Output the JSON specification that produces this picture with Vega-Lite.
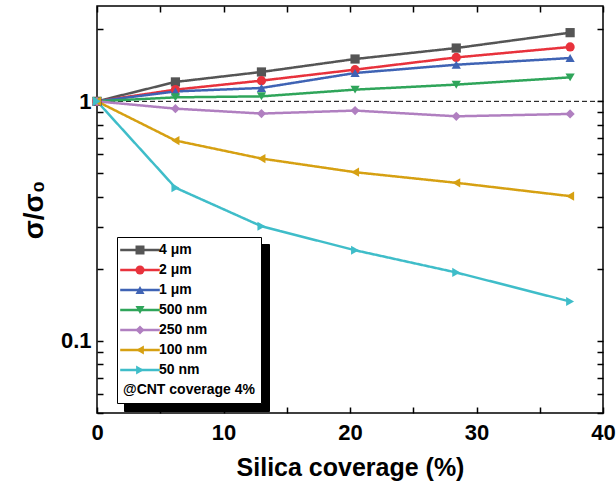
{
  "$schema": "https://vega.github.io/schema/vega-lite/v6.json",
  "width": 506,
  "height": 407,
  "autosize": {"type": "none"},
  "padding": {"left": 97, "top": 6, "right": 13, "bottom": 80},
  "background": "white",
  "config": {"view": {"stroke": "black", "strokeWidth": 1.5}, "font": "Liberation Sans"},
  "data": {
    "values": [
      {"s": "4 μm", "x": 0, "y": 1}, {"s": "4 μm", "x": 6.2, "y": 1.205}, {"s": "4 μm", "x": 13.0, "y": 1.326}, {"s": "4 μm", "x": 20.4, "y": 1.502}, {"s": "4 μm", "x": 28.4, "y": 1.669}, {"s": "4 μm", "x": 37.4, "y": 1.935},
      {"s": "2 μm", "x": 0, "y": 1}, {"s": "2 μm", "x": 6.2, "y": 1.119}, {"s": "2 μm", "x": 13.0, "y": 1.22}, {"s": "2 μm", "x": 20.4, "y": 1.356}, {"s": "2 μm", "x": 28.4, "y": 1.525}, {"s": "2 μm", "x": 37.4, "y": 1.686},
      {"s": "1 μm", "x": 0, "y": 1}, {"s": "1 μm", "x": 6.2, "y": 1.10}, {"s": "1 μm", "x": 13.0, "y": 1.137}, {"s": "1 μm", "x": 20.4, "y": 1.313}, {"s": "1 μm", "x": 28.4, "y": 1.422}, {"s": "1 μm", "x": 37.4, "y": 1.516},
      {"s": "500 nm", "x": 0, "y": 1}, {"s": "500 nm", "x": 6.2, "y": 1.039}, {"s": "500 nm", "x": 13.0, "y": 1.049}, {"s": "500 nm", "x": 20.4, "y": 1.119}, {"s": "500 nm", "x": 28.4, "y": 1.174}, {"s": "500 nm", "x": 37.4, "y": 1.259},
      {"s": "250 nm", "x": 0, "y": 1}, {"s": "250 nm", "x": 6.2, "y": 0.932}, {"s": "250 nm", "x": 13.0, "y": 0.889}, {"s": "250 nm", "x": 20.4, "y": 0.915}, {"s": "250 nm", "x": 28.4, "y": 0.866}, {"s": "250 nm", "x": 37.4, "y": 0.886},
      {"s": "100 nm", "x": 0, "y": 1}, {"s": "100 nm", "x": 6.2, "y": 0.686}, {"s": "100 nm", "x": 13.0, "y": 0.577}, {"s": "100 nm", "x": 20.4, "y": 0.506}, {"s": "100 nm", "x": 28.4, "y": 0.457}, {"s": "100 nm", "x": 37.4, "y": 0.402},
      {"s": "50 nm", "x": 0, "y": 1}, {"s": "50 nm", "x": 6.2, "y": 0.436}, {"s": "50 nm", "x": 13.0, "y": 0.301}, {"s": "50 nm", "x": 20.4, "y": 0.239}, {"s": "50 nm", "x": 28.4, "y": 0.193}, {"s": "50 nm", "x": 37.4, "y": 0.146}
    ]
  },
  "layer": [
    {
      "data": {"values": [{"v": 1}]},
      "mark": {"type": "rule", "strokeDash": [5, 3], "color": "black", "strokeWidth": 1},
      "encoding": {
        "y": {"field": "v", "type": "quantitative", "scale": {"type": "log", "domain": [0.05, 2.5]}, "axis": null}
      }
    },
    {
      "mark": {"type": "line", "strokeWidth": 2.5},
      "encoding": {
        "x": {
          "field": "x", "type": "quantitative",
          "scale": {"domain": [0, 40], "nice": false, "zero": false},
          "axis": {
            "orient": "bottom",
            "values": [0, 5, 10, 15, 20, 25, 30, 35, 40],
            "labelExpr": "datum.value % 10 === 0 ? datum.label : ''",
            "tickSize": -6,
            "tickColor": "black", "tickWidth": 1.5, "domain": false, "grid": false,
            "labelFont": "Liberation Sans", "labelFontWeight": "bold", "labelFontSize": 22, "labelColor": "black",
            "labelPadding": 15, "labelFlush": false, "labelOverlap": false,
            "title": "Silica coverage (%)", "titleFont": "Liberation Sans", "titleFontSize": 25, "titleFontWeight": "bold", "titleColor": "black", "titlePadding": 12
          }
        },
        "y": {
          "field": "y", "type": "quantitative",
          "scale": {"type": "log", "domain": [0.05, 2.5]},
          "axis": {
            "orient": "left",
            "values": [0.05, 0.06, 0.07, 0.08, 0.09, 0.1, 0.2, 0.3, 0.4, 0.5, 0.6, 0.7, 0.8, 0.9, 1, 2],
            "labelExpr": "datum.value === 1 ? '1' : (abs(datum.value - 0.1) < 1e-9 ? '0.1' : '')",
            "tickSize": -6,
            "tickColor": "black", "tickWidth": 1.5, "domain": false, "grid": false,
            "labelFont": "Liberation Sans", "labelFontWeight": "bold", "labelFontSize": 22, "labelColor": "black",
            "labelPadding": 12, "labelOverlap": false,
            "title": "σ/σ₀", "titleFont": "Liberation Sans", "titleFontSize": 28, "titleFontWeight": "bold", "titleColor": "black", "titlePadding": 12
          }
        },
        "stroke": {
          "field": "s", "type": "nominal",
          "scale": {"domain": ["50 nm", "100 nm", "250 nm", "500 nm", "1 μm", "2 μm", "4 μm"], "range": ["#3fbdc9", "#d6a012", "#b07fc0", "#2fa55a", "#3f63b4", "#e8323c", "#555555"]},
          "legend": {
            "orient": "none", "legendX": 20, "legendY": 231, "zindex": 2,
            "values": ["4 μm", "2 μm", "1 μm", "500 nm", "250 nm", "100 nm", "50 nm"],
            "title": "@CNT coverage 4%", "titleOrient": "bottom", "titleAnchor": "start",
            "titleFont": "Liberation Sans", "titleFontWeight": "bold", "titleFontSize": 14, "titleColor": "black", "titlePadding": 6,
            "labelFont": "Liberation Sans", "labelFontWeight": "bold", "labelFontSize": 14, "labelColor": "black",
            "symbolType": "M-4.4,0H4.4", "symbolSize": 81, "symbolStrokeWidth": 2.5, "symbolOffset": 10, "labelOffset": 12,
            "rowPadding": 6, "padding": 6, "strokeColor": "black", "fillColor": "white"
          }
        },
        "strokeDash": {
          "field": "s", "type": "nominal",
          "scale": {"domain": ["2 μm", "4 μm", "1 μm", "500 nm", "250 nm", "100 nm", "50 nm"], "range": [[1, 0], [1, 0], [1, 0], [1, 0], [1, 0], [1, 0], [1, 0]]},
          "legend": {
            "orient": "none", "legendX": 27, "legendY": 238, "zindex": 1,
            "title": null, "labelExpr": "''",
            "labelFontSize": 14, "symbolSize": 81, "symbolOpacity": 0, "symbolOffset": 10, "labelOffset": 109,
            "rowPadding": 9.5, "padding": 6, "strokeColor": "black", "fillColor": "black"
          }
        }
      }
    },
    {
      "mark": {"type": "point", "filled": true, "size": 85, "opacity": 1},
      "encoding": {
        "x": {
          "field": "x", "type": "quantitative",
          "scale": {"domain": [0, 40], "nice": false, "zero": false},
          "axis": {
            "orient": "top",
            "values": [0, 5, 10, 15, 20, 25, 30, 35, 40],
            "labels": false,
            "tickSize": -6,
            "tickColor": "black", "tickWidth": 1.5, "domain": false, "grid": false, "title": null
          }
        },
        "y": {
          "field": "y", "type": "quantitative",
          "scale": {"type": "log", "domain": [0.05, 2.5]},
          "axis": {
            "orient": "right",
            "values": [0.05, 0.06, 0.07, 0.08, 0.09, 0.1, 0.2, 0.3, 0.4, 0.5, 0.6, 0.7, 0.8, 0.9, 1, 2],
            "labels": false,
            "tickSize": -6,
            "tickColor": "black", "tickWidth": 1.5, "domain": false, "grid": false, "title": null
          }
        },
        "color": {
          "field": "s", "type": "nominal",
          "scale": {"domain": ["4 μm", "2 μm", "1 μm", "500 nm", "250 nm", "100 nm", "50 nm"], "range": ["#555555", "#e8323c", "#3f63b4", "#2fa55a", "#b07fc0", "#d6a012", "#3fbdc9"]},
          "legend": {
            "orient": "none", "legendX": 20, "legendY": 231, "zindex": 3,
            "title": null, "labelExpr": "''",
            "labelFontSize": 14, "symbolSize": 81, "symbolOffset": 10, "labelOffset": 12,
            "rowPadding": 6, "padding": 6
          }
        },
        "shape": {
          "field": "s", "type": "nominal",
          "scale": {"domain": ["4 μm", "2 μm", "1 μm", "500 nm", "250 nm", "100 nm", "50 nm"], "range": ["square", "circle", "triangle-up", "triangle-down", "diamond", "triangle-left", "triangle-right"]},
          "legend": {
            "orient": "none", "legendX": 20, "legendY": 231, "zindex": 3,
            "title": null, "labelExpr": "''",
            "labelFontSize": 14, "symbolSize": 81, "symbolOffset": 10, "labelOffset": 12,
            "rowPadding": 6, "padding": 6
          }
        }
      }
    }
  ],
  "resolve": {"axis": {"x": "independent", "y": "independent"}}
}
